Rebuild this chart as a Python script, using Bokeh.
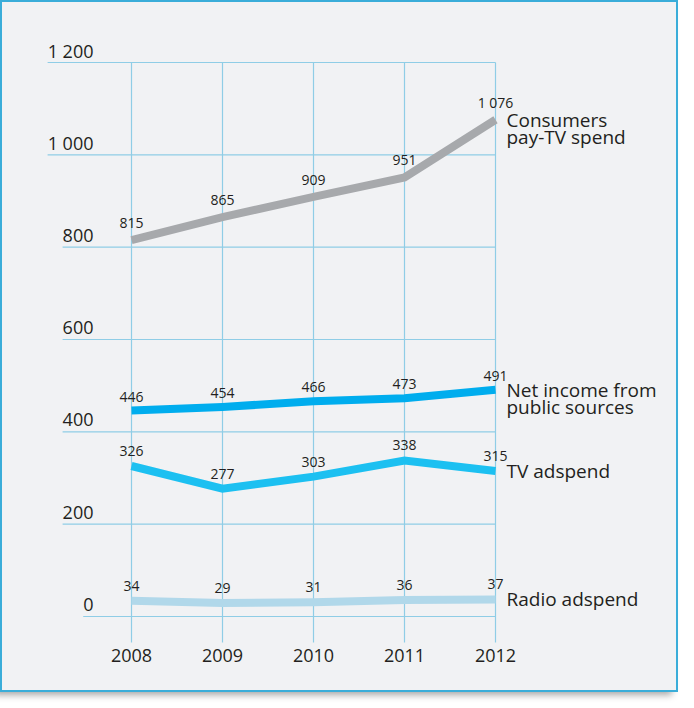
from bokeh.plotting import figure
from bokeh.models import Range1d
from bokeh.embed import file_html
from bokeh.resources import INLINE
from bokeh.core.properties import value

# ---- data ----
years = [2008, 2009, 2010, 2011, 2012]
pay_tv = [815, 865, 909, 951, 1076]
public_income = [446, 454, 466, 473, 491]
tv_adspend = [326, 277, 303, 338, 315]
radio_adspend = [34, 29, 31, 36, 37]

series = [pay_tv, public_income, tv_adspend, radio_adspend]
series_line1 = ["Consumers", "Net income from", "TV adspend", "Radio adspend"]
series_line2 = ["pay-TV spend", "public sources", "", ""]
series_colors = ["#A7A9AC", "#00ADEE", "#1CC0F1", "#B1D8EA"]
value_label_offsets = [-17, -14, -15, -15]

y_ticks = [0, 200, 400, 600, 800, 1000, 1200]
y_tick_labels = ["0", "200", "400", "600", "800", "1 000", "1 200"]
x_tick_labels = ["2008", "2009", "2010", "2011", "2012"]

FONT = value("Open Sans")
TEXT = "#231F20"
GRID = "#8FCDE6"

W, H = 678, 692
x0, x1 = 2006.5604, 2014.0110
y0, y1 = -164.6, 1334.3
px_x = W / (x1 - x0)
px_y = H / (y1 - y0)

p = figure(width=W, height=H, x_range=Range1d(x0, x1), y_range=Range1d(y0, y1),
           x_axis_type=None, y_axis_type=None, toolbar_location=None,
           output_backend="svg", min_border=0,
           background_fill_color="#F1F2F4", border_fill_color="#F1F2F4",
           outline_line_color="#3AADD9", outline_line_width=3)
p.styles = {"box-shadow": "-6px 3px 7px rgba(0,0,0,0.35)"}

def fmt(v):
    return f"{v:,}".replace(",", " ")

# ---- grid ----
label_right = x0 + 93 / px_x
grid_bottom = y_ticks[0] - 26 / px_y
p.segment(x0=years, y0=[grid_bottom] * len(years), x1=years, y1=[y_ticks[-1]] * len(years),
          line_color=GRID, line_width=1.2)

def label_width_px(s):
    return sum(4.7 if c == " " else 10.3 for c in s)

grid_left = [label_right - label_width_px(s) / px_x for s in y_tick_labels]
p.segment(x0=grid_left, y0=y_ticks, x1=[years[-1]] * len(y_ticks), y1=y_ticks,
          line_color=GRID, line_width=1.2)

# ---- axis labels ----
p.text(x=[label_right] * len(y_ticks), y=y_ticks, text=y_tick_labels,
       text_font=FONT, text_font_size="18px", text_color=TEXT,
       text_align="right", text_baseline="middle", y_offset=-12)
p.text(x=years, y=[0] * len(years), text=x_tick_labels,
       text_font=FONT, text_font_size="18px", text_color=TEXT,
       text_align="center", text_baseline="middle", y_offset=39)

# ---- lines and labels ----
for vals, l1, l2, col, off in zip(series, series_line1, series_line2, series_colors,
                                  value_label_offsets):
    p.line(years, vals, line_width=8, line_color=col, line_join="miter", line_cap="butt")
    p.text(x=years, y=vals, text=[fmt(v) for v in vals],
           text_font=FONT, text_font_size="14px", text_color=TEXT,
           text_align="center", text_baseline="middle", y_offset=off)
    p.text(x=[years[-1]], y=[vals[-1]], text=[l1],
           text_font=FONT, text_font_size="19px", text_color=TEXT,
           text_align="left", text_baseline="middle", x_offset=11)
    if l2:
        p.text(x=[years[-1]], y=[vals[-1]], text=[l2],
               text_font=FONT, text_font_size="19px", text_color=TEXT,
               text_align="left", text_baseline="middle", x_offset=11, y_offset=17.5)

open("out.html", "w").write(file_html(p, INLINE))
